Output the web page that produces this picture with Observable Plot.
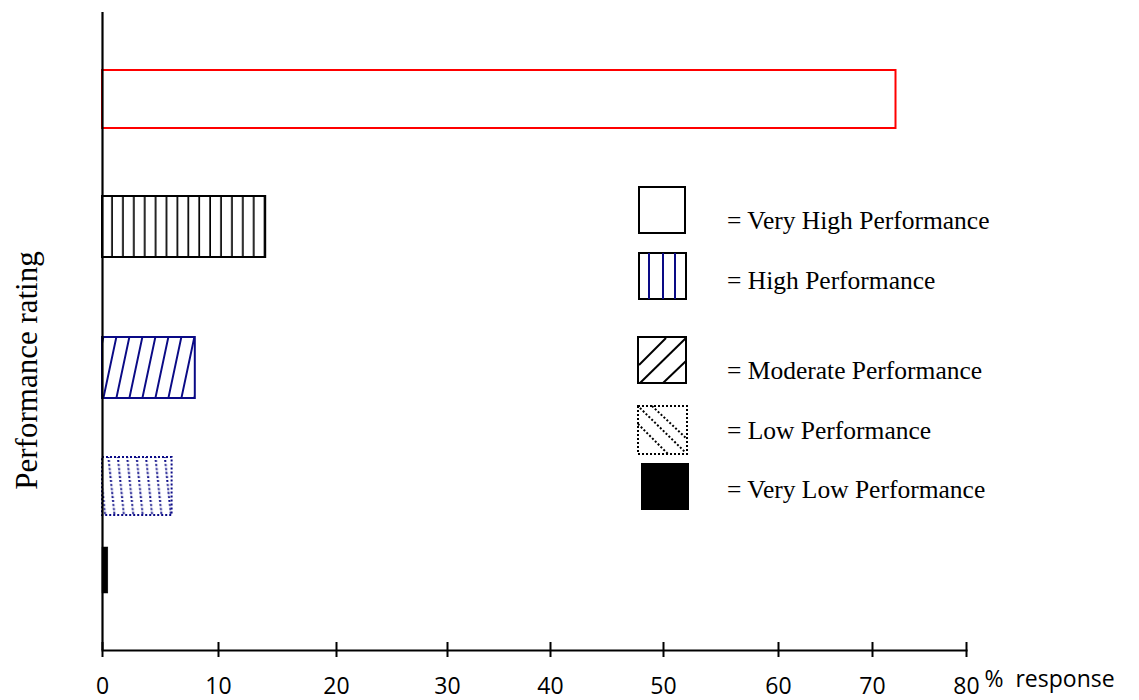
<!DOCTYPE html>
<html>
<head>
<meta charset="utf-8">
<script src="https://cdn.jsdelivr.net/npm/d3@7"></script>
<script src="https://cdn.jsdelivr.net/npm/@observablehq/plot@0.6"></script>
<style>
  html, body { margin: 0; padding: 0; background: #fff; }
  #wrap { position: relative; width: 1139px; height: 700px; }
  .lg-text { position: absolute; font-family: "Liberation Serif", "Times New Roman", serif; font-size: 25.5px; color: #000; white-space: nowrap; line-height: 1; transform: translateY(-50%); }
  .lg-sw { position: absolute; overflow: visible; }
</style>
</head>
<body>
<div id="wrap"></div>
<script>
// ---- data ----
const categories = ["Very High Performance", "High Performance", "Moderate Performance", "Low Performance", "Very Low Performance"];
const values = [72.5, 14, 8, 6, 0.5];
const xTicks = [0, 10, 20, 30, 40, 50, 60, 70, 80];
const axisLabelY = "Performance rating";
const axisUnit = "%\u00a0\u00a0response";

// ---- build table ----
const rows = categories.map((c, i) => ({category: c, value: values[i], rank: i}));

const navy = "#0a0a86";
const barStyles = {
  "Very High Performance": {fill: "white", stroke: "#ff0000", strokeWidth: 2},
  "High Performance": {fill: "url(#hatchV)", stroke: "black", strokeWidth: 2},
  "Moderate Performance": {fill: "url(#hatchMod)", stroke: navy, strokeWidth: 2},
  "Low Performance": {fill: "url(#hatchLow)", stroke: navy, strokeWidth: 2, strokeDasharray: "2,2"},
  "Very Low Performance": {fill: "black", stroke: "black", strokeWidth: 0.5}
};

const sansFont = "'Open Sans', sans-serif";

const chart = Plot.plot({
  width: 1139,
  height: 700,
  marginLeft: 102,
  marginRight: 173,
  marginTop: 12,
  marginBottom: 50,
  style: {background: "white", color: "black", fontFamily: sansFont, fontSize: "23px"},
  x: {
    type: "linear",
    domain: xTicks,
    range: [102, 218, 336, 447, 550, 663, 778, 872, 966],
    axis: null
  },
  y: {
    type: "linear",
    domain: [-0.25, 0.25, 0.75, 1.25, 1.75, 2.25, 2.75, 3.25, 3.75, 4.25],
    range: [70, 128, 196, 257, 337, 398, 457, 515, 547, 593],
    axis: null
  },
  marks: [
    ...categories.map(c => Plot.rect(rows, {
      filter: d => d.category === c,
      x1: 0,
      x2: "value",
      y1: d => d.rank - 0.25,
      y2: d => d.rank + 0.25,
      ...barStyles[c]
    })),
    Plot.ruleX([0], {stroke: "black", strokeWidth: 2.2}),
    Plot.frame({anchor: "bottom", stroke: "black", strokeWidth: 2}),
    Plot.axisX({ticks: xTicks, tickSize: 15, dy: -8, tickFormat: () => "", label: null, strokeWidth: 2, stroke: "black"}),
    Plot.axisX({ticks: xTicks, tickSize: 0, tickPadding: 27, tickFormat: d => String(d), label: null, fontSize: 23, fontFamily: sansFont, fill: "black"}),
    Plot.text([axisUnit], {x: 80, frameAnchor: "bottom", dy: 36, dx: 18, textAnchor: "start", fontSize: 23, fontFamily: sansFont, fill: "black"}),
    Plot.text([axisLabelY], {frameAnchor: "left", textAnchor: "middle", rotate: -90, dx: -75, dy: 39, fontSize: 31, fontFamily: "'Liberation Serif', serif", fill: "black"})
  ]
});

// hatch patterns for bars
chart.insertAdjacentHTML("afterbegin", `
<defs>
  <pattern id="hatchV" patternUnits="userSpaceOnUse" x="102" y="0" width="10.9" height="20">
    <line x1="10.2" y1="0" x2="10.2" y2="20" stroke="black" stroke-width="2"/>
  </pattern>
  <pattern id="hatchMod" patternUnits="userSpaceOnUse" width="13" height="20" patternTransform="skewX(-12)">
    <line x1="6" y1="0" x2="6" y2="20" stroke="${navy}" stroke-width="2"/>
  </pattern>
  <pattern id="hatchLow" patternUnits="userSpaceOnUse" width="9.4" height="20" patternTransform="skewX(6)">
    <line x1="4" y1="0" x2="4" y2="20" stroke="${navy}" stroke-width="2" stroke-dasharray="2,2"/>
  </pattern>
</defs>`);

const wrap = document.getElementById("wrap");
wrap.appendChild(chart);

// ---- legend overlay ----
const swatches = [
  {x: 639, y: 187, w: 46, h: 46, svg: `<rect x="0" y="0" width="46" height="46" fill="white" stroke="black" stroke-width="2"/>`},
  {x: 639, y: 253, w: 47, h: 46, svg: `<rect x="0" y="0" width="47" height="46" fill="white" stroke="black" stroke-width="2"/>
      <line x1="10" y1="0" x2="10" y2="46" stroke="${navy}" stroke-width="2"/>
      <line x1="24" y1="0" x2="24" y2="46" stroke="${navy}" stroke-width="2"/>
      <line x1="36" y1="0" x2="36" y2="46" stroke="${navy}" stroke-width="2"/>`},
  {x: 638, y: 337, w: 48, h: 46, svg: `<rect x="0" y="0" width="48" height="46" fill="white" stroke="black" stroke-width="2"/>
      <line x1="1" y1="28" x2="28" y2="1" stroke="black" stroke-width="2"/>
      <line x1="2" y1="46" x2="48" y2="1" stroke="black" stroke-width="2"/>
      <line x1="25" y1="46" x2="48" y2="24" stroke="black" stroke-width="2"/>`},
  {x: 638, y: 406, w: 49, h: 48, svg: `<rect x="0" y="0" width="49" height="48" fill="white" stroke="black" stroke-width="2" stroke-dasharray="2,2"/>
      <line x1="14" y1="0" x2="49" y2="33" stroke="black" stroke-width="2" stroke-dasharray="2,2"/>
      <line x1="2" y1="2" x2="47" y2="46" stroke="black" stroke-width="2" stroke-dasharray="2,2"/>
      <line x1="0" y1="18" x2="30" y2="48" stroke="black" stroke-width="2" stroke-dasharray="2,2"/>`},
  {x: 641, y: 463, w: 48, h: 47, svg: `<rect x="0" y="0" width="48" height="47" fill="black"/>`}
];
const textY = [221, 281, 371, 431, 490];
categories.forEach((c, i) => {
  const s = swatches[i];
  const sw = document.createElementNS("http://www.w3.org/2000/svg", "svg");
  sw.setAttribute("class", "lg-sw");
  sw.setAttribute("width", s.w);
  sw.setAttribute("height", s.h);
  sw.style.left = s.x + "px";
  sw.style.top = s.y + "px";
  sw.innerHTML = s.svg;
  wrap.appendChild(sw);
  const t = document.createElement("div");
  t.className = "lg-text";
  t.style.left = "727px";
  t.style.top = textY[i] + "px";
  t.textContent = "= " + c;
  wrap.appendChild(t);
});
</script>
</body>
</html>
